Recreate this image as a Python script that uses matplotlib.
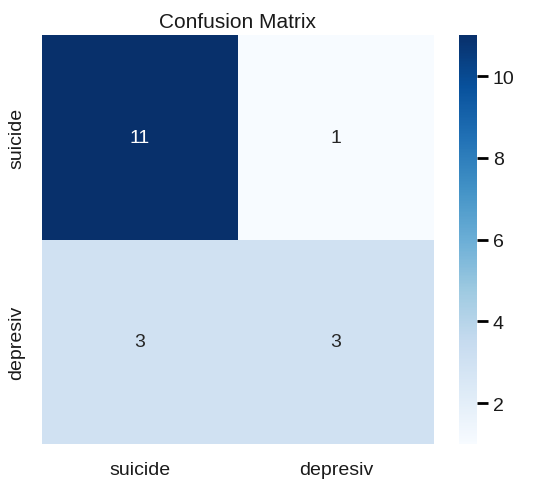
import matplotlib
matplotlib.use("Agg")
import matplotlib.pyplot as plt
import seaborn as sns
import numpy as np

labels = ["suicide", "depresiv"]
row_suicide = [11, 1]
row_depresiv = [3, 3]

cm = np.array([row_suicide, row_depresiv])

sns.set(style="ticks", font_scale=1.3)
plt.rcParams["font.family"] = ["Liberation Sans", "DejaVu Sans"]
plt.rcParams["text.color"] = "#1a1a1a"

fig = plt.figure(figsize=(5.5, 4.89), dpi=100)
ax = fig.add_axes([0.0764, 0.090, 0.7126, 0.836])
cax = fig.add_axes([0.8345, 0.090, 0.0327, 0.836])

sns.heatmap(cm, annot=True, fmt="d", cmap="Blues", ax=ax, cbar_ax=cax,
            xticklabels=labels, yticklabels=labels,
            annot_kws={"fontsize": 14})

ax.set_title("Confusion Matrix", fontsize=15)
ax.tick_params(axis="both", labelsize=14, length=0, pad=12, labelcolor="#1a1a1a")
cax.tick_params(axis="y", labelsize=14, length=8, width=2,
                color="black", labelcolor="#1a1a1a", right=True)

fig.savefig("out.png", dpi=100)
